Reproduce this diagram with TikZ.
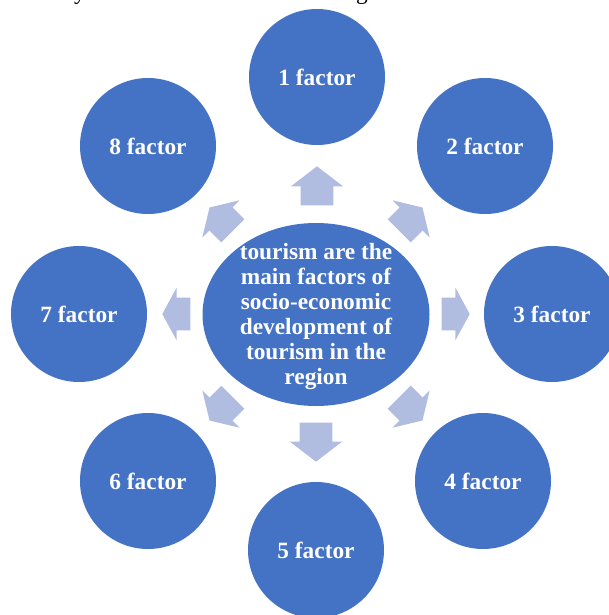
\documentclass[tikz,border=0pt]{standalone}
\usepackage{fontspec}
\setmainfont{Liberation Serif}
\usetikzlibrary{shapes.geometric,shapes.arrows}
\definecolor{nodeblue}{HTML}{4472C4}
\definecolor{arrowblue}{HTML}{B0BCE0}
\begin{document}
\begin{tikzpicture}[x=0.75pt,y=-0.75pt,
  labelfont/.style={font=\bfseries\fontsize{17.5}{18.75}\selectfont},
  factor/.style={circle, fill=nodeblue, minimum size=102pt, inner sep=0pt, text=white, labelfont},
  hub/.style={ellipse, fill=nodeblue, minimum width=170.25pt, minimum height=137.25pt, inner sep=0pt},
  hubtext/.style={text=white, align=center, inner sep=0pt, labelfont},
  farrow/.style={single arrow, anchor=tip, fill=arrowblue, inner xsep=0pt, inner ysep=12pt, minimum width=39pt, single arrow head extend=7.5pt},
  vert/.style={farrow, minimum height=29.25pt, single arrow tip angle=105},
  horz/.style={farrow, minimum height=21pt, single arrow tip angle=123},
  diag/.style={farrow, minimum height=24.75pt, single arrow tip angle=117},
  frag/.style={anchor=base, inner sep=0pt, font=\fontsize{17.5}{18.75}\selectfont}
]
\useasboundingbox (0,0) rectangle (609,615);
\begin{scope}
\clip (0,0) rectangle (609,615);
\node[frag] (ty) at (80,-0.5) {y};
\node[frag] (tg) at (362,-0.5) {g};
\node[factor] (f1) at (317,77) {1 factor};
\node[factor] (f2) at (485,146) {2 factor};
\node[factor] (f3) at (552,314) {3 factor};
\node[factor] (f4) at (483,481) {4 factor};
\node[factor] (f5) at (316,550) {5 factor};
\node[factor] (f6) at (148,481) {6 factor};
\node[factor] (f7) at (79,314) {7 factor};
\node[factor] (f8) at (148,146) {8 factor};
\node[hub] (c) at (316,314.5) {};
\node[hubtext] (ct) at (316,316.5) {tourism are the\\main factors of\\socio-economic\\development of\\tourism in the\\region};
\node[vert, rotate=90] (a1) at (317,166) {};
\node[diag, rotate=45] (a2) at (422.7,207.3) {};
\node[horz, rotate=0] (a3) at (470,314) {};
\node[diag, rotate=-45] (a4) at (422.7,420.7) {};
\node[vert, rotate=-90] (a5) at (316,462) {};
\node[diag, rotate=-135] (a6) at (209.3,420.7) {};
\node[horz, rotate=180] (a7) at (162,314) {};
\node[diag, rotate=135] (a8) at (209.3,207.3) {};
\end{scope}
\end{tikzpicture}
\end{document}
